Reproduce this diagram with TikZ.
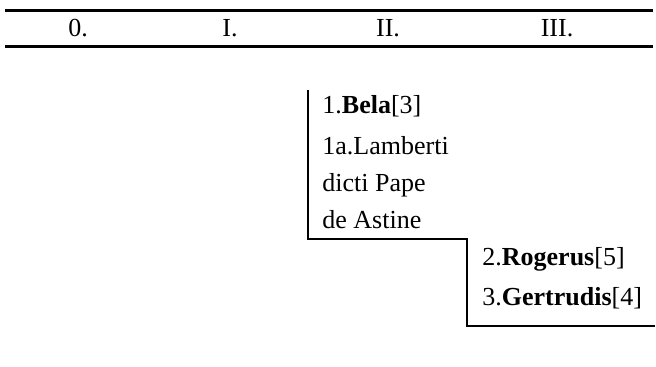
\documentclass[tikz,border=0pt]{standalone}
\usepackage{fontspec}
\setmainfont{Liberation Serif}
\begin{document}
\begin{tikzpicture}[x=0.5pt,y=-0.5pt,
    every node/.style={inner sep=0pt,font=\fontsize{13}{18.5}\selectfont},
    entry/.style={anchor=base west,align=left}]
        \useasboundingbox (0,0) rectangle (656,367);
        % header of the generations
        \draw[line width=1.5pt] (5,11) -- (653,11);
        \draw[line width=1.5pt] (5,47) -- (653,47);
        \node[anchor=base] (gen0) at (78,37) {0.};
        \node[anchor=base] (gen1) at (230,37) {I.};
        \node[anchor=base] (gen2) at (388,37) {II.};
        \node[anchor=base] (gen3) at (557,37) {III.};
        % line of descent
        \draw[line width=1pt] (308,90) -- (308,239) -- (467,239) -- (467,326) -- (655,326);
        \node[entry] (bela) at (322,114) {1.\textbf{Bela}[3]};
        \node[entry] (lamberti) at (322,229) {1a.Lamberti\\dicti Pape\\de Astine};
        \node[entry] (rogerus) at (482,266) {2.\textbf{Rogerus}[5]};
        \node[entry] (gertrudis) at (482,306) {3.\textbf{Gertrudis}[4]};
\end{tikzpicture}
\end{document}
